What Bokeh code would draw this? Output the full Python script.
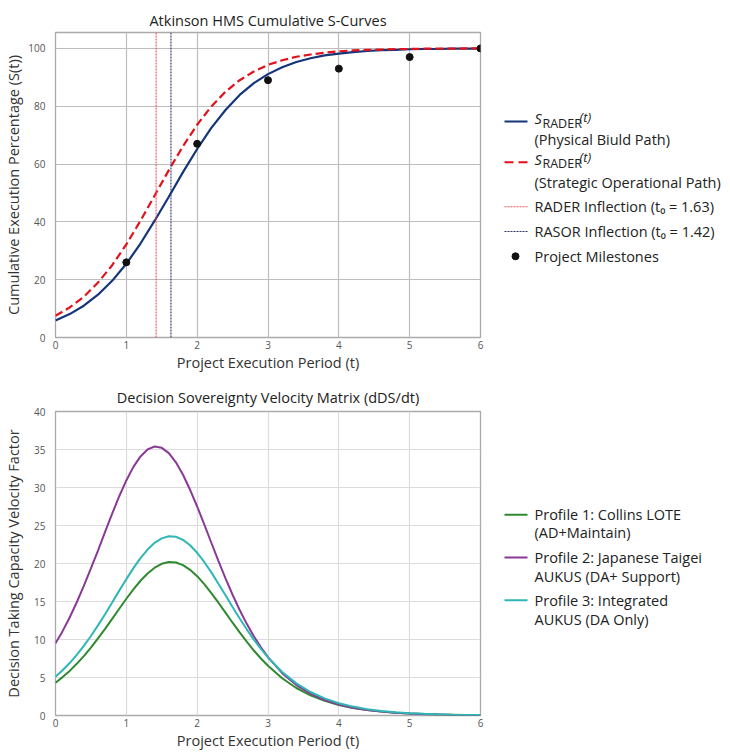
from bokeh.plotting import figure
from bokeh.layouts import column, row
from bokeh.models import Range1d, FixedTicker, Span
from bokeh.embed import file_html
from bokeh.resources import INLINE
from bokeh.core.properties import value

FONT = "Open Sans"

# ---------------- data ----------------
t = [0.0, 0.2, 0.4, 0.6, 0.8, 1.0, 1.2, 1.4, 1.6, 1.8, 2.0, 2.2, 2.4, 2.6, 2.8,
     3.0, 3.2, 3.4, 3.6, 3.8, 4.0, 4.2, 4.4, 4.6, 4.8, 5.0, 5.2, 5.4, 5.6, 5.8, 6.0]

s_physical = [5.9, 8.1, 11.0, 14.8, 19.6, 25.5, 32.5, 40.4, 48.7, 57.2, 65.2, 72.5,
              78.7, 83.9, 88.0, 91.1, 93.5, 95.3, 96.6, 97.6, 98.2, 98.7, 99.1,
              99.4, 99.5, 99.7, 99.8, 99.8, 99.9, 99.9, 99.9]
s_strategic = [7.5, 10.4, 14.1, 19.0, 25.0, 32.2, 40.4, 49.1, 57.9, 66.2, 73.6, 79.9,
               85.0, 89.0, 92.0, 94.3, 95.9, 97.1, 97.9, 98.5, 99.0, 99.3, 99.5,
               99.6, 99.8, 99.8, 99.9, 99.9, 99.9, 100.0, 100.0]

inflection_rader = 1.42
inflection_rasor = 1.63

milestone_t = [1, 2, 3, 4, 5, 6]
milestone_v = [26, 67, 89, 93, 97, 100]

t_v = [0.0, 0.1, 0.2, 0.3, 0.4, 0.5, 0.6, 0.7, 0.8, 0.9, 1.0, 1.1, 1.2, 1.3, 1.4,
       1.5, 1.6, 1.7, 1.8, 1.9, 2.0, 2.1, 2.2, 2.3, 2.4, 2.5, 2.6, 2.7, 2.8, 2.9,
       3.0, 3.2, 3.4, 3.6, 3.8, 4.0, 4.2, 4.4, 4.6, 4.8, 5.0, 5.2, 5.4, 5.6, 5.8, 6.0]

v_collins = [4.3, 5.05, 5.87, 6.8, 7.82, 8.94, 10.14, 11.4, 12.72, 14.05, 15.36, 16.6,
             17.73, 18.69, 19.45, 19.96, 20.19, 20.13, 19.78, 19.17, 18.33, 17.29,
             16.11, 14.84, 13.53, 12.21, 10.93, 9.71, 8.55, 7.5, 6.54,
             4.9, 3.62, 2.65, 1.92, 1.39, 1.0, 0.71, 0.51, 0.36, 0.26, 0.19, 0.13,
             0.1, 0.06, 0.05]
v_taigei = [9.5, 11.1, 12.9, 14.9, 17.05, 19.35, 21.7, 24.15, 26.55, 28.85, 30.93,
            32.71, 34.09, 35.01, 35.39, 35.22, 34.52, 33.31, 31.68, 29.7, 27.5,
            25.14, 22.73, 20.35, 18.05, 15.89, 13.88, 12.06, 10.42, 8.96, 7.67,
            5.57, 4.0, 2.87, 2.04, 1.44, 1.01, 0.72, 0.51, 0.35, 0.25, 0.17, 0.13,
            0.08, 0.06, 0.04]
v_integrated = [5.1, 5.95, 6.9, 7.97, 9.16, 10.46, 11.86, 13.33, 14.87, 16.43, 17.94,
                19.39, 20.71, 21.84, 22.72, 23.31, 23.59, 23.52, 23.11, 22.4, 21.41,
                20.2, 18.83, 17.34, 15.81, 14.27, 12.77, 11.34, 9.99, 8.76, 7.64,
                5.72, 4.23, 3.09, 2.25, 1.62, 1.17, 0.83, 0.6, 0.42, 0.3, 0.22, 0.15,
                0.11, 0.08, 0.06]

x_ticks = [0, 1, 2, 3, 4, 5, 6]
y_ticks_top = [0, 20, 40, 60, 80, 100]
y_ticks_bottom = [0, 5, 10, 15, 20, 25, 30, 35, 40]

NAVY = "#15357a"
RED = "#e3111b"
RED_DOT = "#f0505a"
NAVY_DOT = "#2a3370"
GREEN = "#2e8a2e"
PURPLE = "#8a3a96"
TEAL = "#2fb6b6"
TXT = "#222222"

# ---------------- layout in page pixels ----------------
PLOT_W, LEG_W = 495, 235
FL, FR = 55, 480                          # frame left / right
H1, TOP1, BOT1 = 374, 32, 34              # frame 1: 32 .. 340
H2, TOP2, BOT2 = 378, 37, 35              # frame 2: 411 .. 717 (page)


def make_plot(h, top, bottom, yr, grid_color, title, title_standoff):
    p = figure(width=PLOT_W, height=h, x_range=Range1d(0, 6), y_range=yr,
               output_backend="svg", toolbar_location=None, title=title,
               min_border_left=FL, min_border_right=PLOT_W - FR,
               min_border_top=top, min_border_bottom=bottom)
    p.title.text_font = FONT
    p.title.text_font_size = "14.5px"
    p.title.text_font_style = "normal"
    p.title.text_color = TXT
    p.title.align = "center"
    p.title.standoff = title_standoff
    p.outline_line_color = "#aaaaaa"
    p.outline_line_width = 1.3
    for ax in (p.xaxis, p.yaxis):
        ax.axis_line_color = None
        ax.major_tick_line_color = None
        ax.minor_tick_line_color = None
        ax.major_tick_out = 0
        ax.major_tick_in = 0
        ax.minor_tick_out = 0
        ax.minor_tick_in = 0
        ax.major_label_text_font = FONT
        ax.major_label_text_font_size = "10px"
        ax.major_label_text_color = "#555555"
        ax.axis_label_text_font = FONT
        ax.axis_label_text_font_size = "14.5px"
        ax.axis_label_text_font_style = "normal"
        ax.axis_label_text_color = "#333333"
    p.xaxis.major_label_standoff = 3
    p.xaxis.axis_label_standoff = 1
    p.yaxis.major_label_standoff = 10
    p.yaxis.axis_label_standoff = 2
    p.grid.grid_line_color = grid_color
    p.grid.grid_line_width = 1.2
    p.xaxis.ticker = FixedTicker(ticks=x_ticks)
    p.xaxis.axis_label = "Project Execution Period (t)"
    return p


def make_legend(h, top, bottom):
    ft, fb = top, h - bottom
    lf = figure(width=LEG_W, height=h, x_range=Range1d(PLOT_W, PLOT_W + LEG_W),
                y_range=Range1d(fb, ft), x_axis_type=None, y_axis_type=None,
                output_backend="svg", toolbar_location=None,
                min_border_left=0, min_border_right=0,
                min_border_top=top, min_border_bottom=bottom)
    lf.grid.grid_line_color = None
    lf.outline_line_color = None
    return lf


def txt(f, x, y, s, size="14.5px", style="normal", font=FONT, color=TXT, align="left"):
    f.text(x=[x], y=[y], text=[s], text_font=value(font), text_font_size=value(size),
           text_font_style=value(style), text_color=color,
           text_align=align, text_baseline="middle")


def seg(f, y, color, width=2.0, dash="solid"):
    f.line([504, 527], [y, y], line_color=color, line_width=width, line_dash=dash)


def s_rader(f, y):
    txt(f, 534, y - 3, "S", "14.5px", "italic")
    txt(f, 542, y + 1.5, "RADER", "12.5px")
    txt(f, 579, y - 5, "(t)", "13px", "italic")


# ---------------- top plot ----------------
p1 = make_plot(H1, TOP1, BOT1, Range1d(0, 105.5), "#bdbdbd",
               "Atkinson HMS Cumulative S-Curves", 6)
p1.yaxis.ticker = FixedTicker(ticks=y_ticks_top)
p1.yaxis.axis_label = "Cumulative Execution Percentage (S(t))"

p1.add_layout(Span(location=inflection_rader, dimension="height", line_color=RED_DOT,
                   line_dash="2 1", line_width=1.1))
p1.add_layout(Span(location=inflection_rasor, dimension="height", line_color=NAVY_DOT,
                   line_dash="2 1", line_width=1.1))
p1.line(t, s_physical, line_color=NAVY, line_width=2.2)
p1.line(t, s_strategic, line_color=RED, line_width=2.2, line_dash="8 4")
p1.scatter(milestone_t, milestone_v, size=7, color="#111111")

# legend 1 (page-pixel coordinates)
L1 = make_legend(H1, TOP1, BOT1)
seg(L1, 122, NAVY)
s_rader(L1, 122)
txt(L1, 534, 140, "(Physical Biuld Path)")
seg(L1, 163, RED, 2.0, "9 5")
s_rader(L1, 163)
txt(L1, 534, 183, "(Strategic Operational Path)")
seg(L1, 208, RED_DOT, 1.1, "2 1")
txt(L1, 534, 208, "RADER Inflection (t\u2080 = 1.63)")
seg(L1, 233, NAVY_DOT, 1.1, "2 1")
txt(L1, 534, 233, "RASOR Inflection (t\u2080 = 1.42)")
L1.scatter([515], [258], size=7, color="#111111")
txt(L1, 534, 258, "Project Milestones")

# ---------------- bottom plot ----------------
p2 = make_plot(H2, TOP2, BOT2, Range1d(0, 40), "#dcdcdc",
               "Decision Sovereignty Velocity Matrix (dDS/dt)", 10)
p2.yaxis.ticker = FixedTicker(ticks=y_ticks_bottom)
p2.yaxis.axis_label = "Decision Taking Capacity Velocity Factor"
p2.yaxis.axis_label_standoff = 8

p2.line(t_v, v_collins, line_color=GREEN, line_width=2)
p2.line(t_v, v_taigei, line_color=PURPLE, line_width=2)
p2.line(t_v, v_integrated, line_color=TEAL, line_width=2)

# legend 2 (page-pixel coordinates, relative to the second row)
L2 = make_legend(H2, TOP2, BOT2)
R2 = H1  # page y where row 2 starts
seg(L2, 515 - R2, GREEN)
txt(L2, 534, 515 - R2, "Profile 1: Collins LOTE")
txt(L2, 534, 533 - R2, "(AD+Maintain)")
seg(L2, 558 - R2, PURPLE)
txt(L2, 534, 558 - R2, "Profile 2: Japanese Taigei")
txt(L2, 534, 577 - R2, "AUKUS (DA+ Support)")
seg(L2, 601 - R2, TEAL)
txt(L2, 534, 601 - R2, "Profile 3: Integrated")
txt(L2, 534, 620 - R2, "AUKUS (DA Only)")

layout = column(row(p1, L1, spacing=0), row(p2, L2, spacing=0), spacing=0)

open("out.html", "w").write(file_html(layout, INLINE))
